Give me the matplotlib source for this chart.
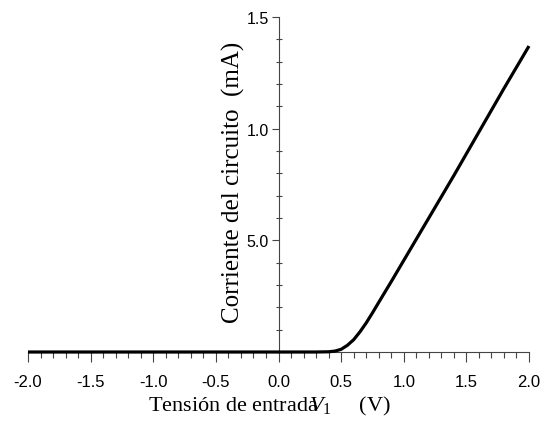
import matplotlib
matplotlib.use('Agg')
import matplotlib.pyplot as plt
from matplotlib.ticker import MultipleLocator, FixedLocator

# valores
tension = [-2.0, -1.0, 0.0, 0.3, 0.4, 0.45, 0.5, 0.55, 0.6, 0.65, 0.7, 0.75,
           0.8, 0.9, 1.0, 1.1, 1.2, 1.4, 1.6, 1.8, 2.0]
corriente = [0.0, 0.0, 0.0, 0.0, 0.001, 0.004, 0.012, 0.03, 0.055, 0.09,
             0.13, 0.175, 0.222, 0.315, 0.41, 0.505, 0.60, 0.79, 0.985,
             1.18, 1.37]

x_ticks = [-2.0, -1.5, -1.0, -0.5, 0.0, 0.5, 1.0, 1.5, 2.0]
x_labels = ['-2.0', '-1.5', '-1.0', '-0.5', '0.0', '0.5', '1.0', '1.5', '2.0']
y_ticks = [0.5, 1.0, 1.5]
y_labels = ['5.0', '1.0', '1.5']

plt.rcParams['mathtext.fontset'] = 'custom'
plt.rcParams['mathtext.rm'] = 'Liberation Serif'
plt.rcParams['mathtext.it'] = 'Liberation Serif:italic'

fig = plt.figure(figsize=(5.43, 4.27), dpi=100)
ax = fig.add_axes([28 / 543, 74 / 427, 501 / 543, 335 / 427])

ax.plot(tension, corriente, color='black', lw=2.3, clip_on=False,
        solid_capstyle='butt', solid_joinstyle='round', zorder=5)

ax.set_xlim(-2.0, 2.0)
ax.set_ylim(0, 1.5)

ax.spines['top'].set_visible(False)
ax.spines['right'].set_visible(False)
ax.spines['left'].set_position(('data', 0))
for s in ['left', 'bottom']:
    ax.spines[s].set_color('#444444')
    ax.spines[s].set_linewidth(0.8)

ax.xaxis.set_major_locator(FixedLocator(x_ticks))
ax.set_xticklabels(x_labels, fontfamily='Liberation Sans', fontsize=12)
ax.xaxis.set_minor_locator(MultipleLocator(0.1))
ax.tick_params(axis='x', which='major', direction='out', length=7,
               width=0.8, color='#444444', pad=9)
ax.tick_params(axis='x', which='minor', direction='out', length=4,
               width=0.8, color='#444444')

ax.yaxis.set_major_locator(FixedLocator(y_ticks))
ax.set_yticklabels(y_labels, fontfamily='Liberation Sans', fontsize=11.5)
ax.yaxis.set_minor_locator(MultipleLocator(0.1))
ax.tick_params(axis='y', which='major', direction='out', length=5,
               width=0.8, color='#444444', pad=2)
ax.tick_params(axis='y', which='minor', direction='inout', length=5,
               width=0.8, color='#444444')

fig.text(233 / 543, 1 - 182 / 427, 'Corriente del circuito  (mA)',
         rotation=90, ha='center', va='center',
         fontfamily='Liberation Serif', fontsize=18)
fig.text(269 / 543, 1 - 406 / 427,
         'Tensión de entrada$\\!\\!\\!V_1$     (V)',
         ha='center', va='center', fontfamily='Liberation Serif', fontsize=16)

fig.savefig('out.png', dpi=100)
